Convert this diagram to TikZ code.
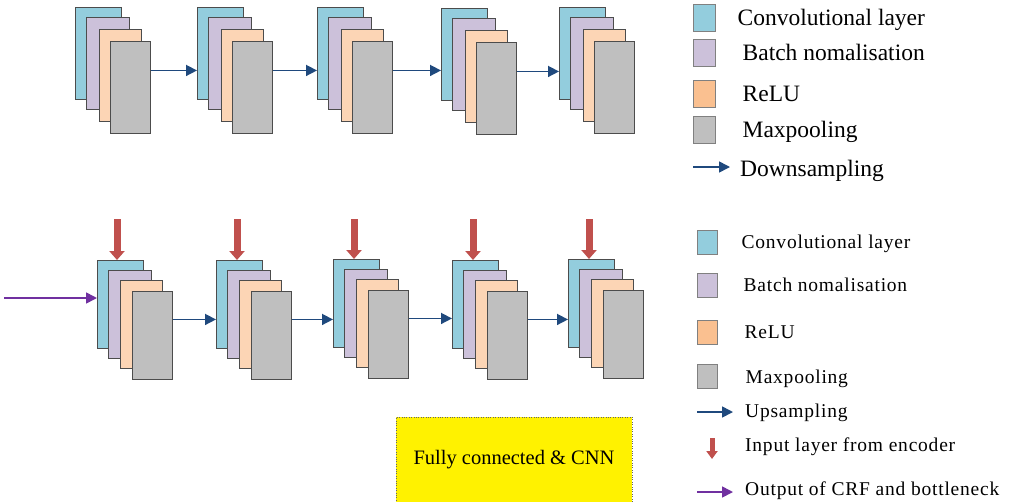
\documentclass[tikz,border=0pt]{standalone}
\usepackage{fontspec}
\setmainfont{Liberation Serif}
\newfontfamily\spacedserif[LetterSpace=4]{Liberation Serif}
\usetikzlibrary{arrows.meta,positioning}
\definecolor{convblue}{HTML}{93CDDD}
\definecolor{bnpurple}{HTML}{CCC1DA}
\definecolor{reluorange}{HTML}{FCD5B5}
\definecolor{legorange}{HTML}{FAC090}
\definecolor{poolgray}{HTML}{BFBFBF}
\definecolor{arrowblue}{HTML}{1F497D}
\definecolor{encred}{HTML}{C0504D}
\definecolor{crfpurple}{HTML}{7030A0}
\begin{document}
\begin{tikzpicture}[x=1pt, y=-1pt,
    layer/.style={draw=black!70, line width=0.9pt, inner sep=0pt, anchor=north west, minimum height=92pt},
    conv/.style={layer, fill=convblue, minimum width=46pt},
    bnorm/.style={layer, fill=bnpurple, minimum width=43pt},
    relu/.style={layer, fill=reluorange, minimum width=42pt},
    pool/.style={layer, fill=poolgray, minimum width=40pt},
    low/.style={minimum height=88pt},
    down/.style={draw=arrowblue, line width=1.6pt, -{Triangle[length=11pt,width=11pt]}},
    crf/.style={draw=crfpurple, line width=1.6pt, -{Triangle[length=11pt,width=11pt]}},
    enc/.style={draw=encred, line width=7pt, -{Triangle[length=9pt,width=15pt]}},
    key/.style={draw=black!50, line width=0.9pt, inner sep=0pt, minimum width=22pt, minimum height=27pt},
    smallkey/.style={key, minimum width=20pt, minimum height=24pt},
    keytxt/.style={inner sep=0pt, anchor=west, text height=15.5pt, text depth=0pt, font=\fontsize{23.5}{28}\selectfont},
    smalltxt/.style={keytxt, text height=13pt, font=\fontsize{19.5}{24}\spacedserif},
    fcbox/.style={draw=black!60, dotted, fill=yellow, minimum width=236pt, minimum height=86pt, font=\fontsize{20.5}{24}\selectfont}
  ]
  \fill[white] (0,0) rectangle (1011,501);
  \useasboundingbox (0,0) rectangle (1011,501);

  % encoder row
  \node[conv] (ec1) at (75,7) {};  \node[bnorm] (eb1) at (86,17) {};  \node[relu] (er1) at (99,29) {};  \node[pool] (ep1) at (110,41) {};
  \node[conv] (ec2) at (197,7) {}; \node[bnorm] (eb2) at (208,17) {}; \node[relu] (er2) at (221,29) {}; \node[pool] (ep2) at (232,41) {};
  \node[conv] (ec3) at (317,7) {}; \node[bnorm] (eb3) at (328,17) {}; \node[relu] (er3) at (341,29) {}; \node[pool] (ep3) at (352,41) {};
  \node[conv] (ec4) at (441,8) {}; \node[bnorm] (eb4) at (452,18) {}; \node[relu] (er4) at (465,30) {}; \node[pool] (ep4) at (476,42) {};
  \node[conv] (ec5) at (559,7) {}; \node[bnorm] (eb5) at (570,17) {}; \node[relu] (er5) at (583,29) {}; \node[pool] (ep5) at (594,41) {};
  \draw[down] ([yshift=17pt]ep1.east) -- ([yshift=17pt]ep1.east -| ec2.west);
  \draw[down] ([yshift=17pt]ep2.east) -- ([yshift=17pt]ep2.east -| ec3.west);
  \draw[down] ([yshift=17pt]ep3.east) -- ([yshift=17pt]ep3.east -| ec4.west);
  \draw[down] ([yshift=17pt]ep4.east) -- ([yshift=17pt]ep4.east -| ec5.west);

  % decoder row
  \node[conv, low] (dc1) at (97,260) {};  \node[bnorm, low] (db1) at (108,270) {}; \node[relu, low] (dr1) at (120,280) {}; \node[pool, low] (dp1) at (132,291) {};
  \node[conv, low] (dc2) at (216,260) {}; \node[bnorm, low] (db2) at (227,270) {}; \node[relu, low] (dr2) at (239,280) {}; \node[pool, low] (dp2) at (251,291) {};
  \node[conv, low] (dc3) at (333,259) {}; \node[bnorm, low] (db3) at (344,269) {}; \node[relu, low] (dr3) at (356,279) {}; \node[pool, low] (dp3) at (368,290) {};
  \node[conv, low] (dc4) at (452,260) {}; \node[bnorm, low] (db4) at (463,270) {}; \node[relu, low] (dr4) at (475,280) {}; \node[pool, low] (dp4) at (487,291) {};
  \node[conv, low] (dc5) at (568,259) {}; \node[bnorm, low] (db5) at (579,269) {}; \node[relu, low] (dr5) at (591,279) {}; \node[pool, low] (dp5) at (603,290) {};
  \draw[down] ([yshift=16pt]dp1.east) -- ([yshift=16pt]dp1.east -| dc2.west);
  \draw[down] ([yshift=16pt]dp2.east) -- ([yshift=16pt]dp2.east -| dc3.west);
  \draw[down] ([yshift=16pt]dp3.east) -- ([yshift=16pt]dp3.east -| dc4.west);
  \draw[down] ([yshift=16pt]dp4.east) -- ([yshift=16pt]dp4.east -| dc5.west);

  % inputs from encoder and bottleneck
  \coordinate (in1) at (117,219); \coordinate (in2) at (237,219); \coordinate (in3) at (354,219);
  \coordinate (in4) at (473,219); \coordinate (in5) at (589,219);
  \draw[enc] (in1) -- (in1 |- dc1.north);
  \draw[enc] (in2) -- (in2 |- dc2.north);
  \draw[enc] (in3) -- (in3 |- dc3.north);
  \draw[enc] (in4) -- (in4 |- dc4.north);
  \draw[enc] (in5) -- (in5 |- dc5.north);
  \coordinate (bneck) at (4,298);
  \draw[crf] (bneck) -- (bneck -| dc1.west);

  \node[fcbox] (fc) at (514,460) {Fully connected \& CNN};

  % legend, encoder
  \node[key, fill=convblue] (kconv) at (704,17.5) {};
  \node[key, fill=bnpurple] (kbn) at (704,53) {};
  \node[key, fill=legorange] (krelu) at (704,93.5) {};
  \node[key, fill=poolgray] (kpool) at (704,130) {};
  \node[keytxt, right=22pt of kconv] (tconv) {Convolutional layer};
  \node[keytxt, right=27pt of kbn] (tbn) {Batch nomalisation};
  \node[keytxt, right=27pt of krelu] (trelu) {ReLU};
  \node[keytxt, right=27pt of kpool] (tpool) {Maxpooling};
  \coordinate (kdown) at (693,167);
  \node[keytxt] (tdown) at (740,168.5) {Downsampling};
  \draw[down] (kdown) -- ([xshift=-10pt]kdown -| tdown.west);

  % legend, decoder
  \node[smallkey, fill=convblue] (kconv2) at (707,242) {};
  \node[smallkey, fill=bnpurple] (kbn2) at (707,285) {};
  \node[smallkey, fill=legorange] (krelu2) at (707,332) {};
  \node[smallkey, fill=poolgray] (kpool2) at (707,376.5) {};
  \node[smalltxt, right=24pt of kconv2] (tconv2) {Convolutional layer};
  \node[smalltxt, right=26pt of kbn2] (tbn2) {Batch nomalisation};
  \node[smalltxt, right=27pt of krelu2] (trelu2) {ReLU};
  \node[smalltxt, right=28pt of kpool2] (tpool2) {Maxpooling};
  \coordinate (kup) at (697,412);
  \node[smalltxt] (tup) at (745,411) {Upsampling};
  \draw[down] (kup) -- ([xshift=-12pt]kup -| tup.west);
  \coordinate (kenc) at (712,438); \coordinate (kenc') at (712,459);
  \node[smalltxt] (tenc) at (745,445) {Input layer from encoder};
  \draw[enc, line width=5pt, -{Triangle[length=8pt,width=11pt]}] (kenc) -- (kenc');
  \coordinate (kcrf) at (697,492);
  \node[smalltxt] (tcrf) at (745,489) {Output of CRF and bottleneck};
  \draw[crf] (kcrf) -- ([xshift=-12pt]kcrf -| tcrf.west);
\end{tikzpicture}
\end{document}
